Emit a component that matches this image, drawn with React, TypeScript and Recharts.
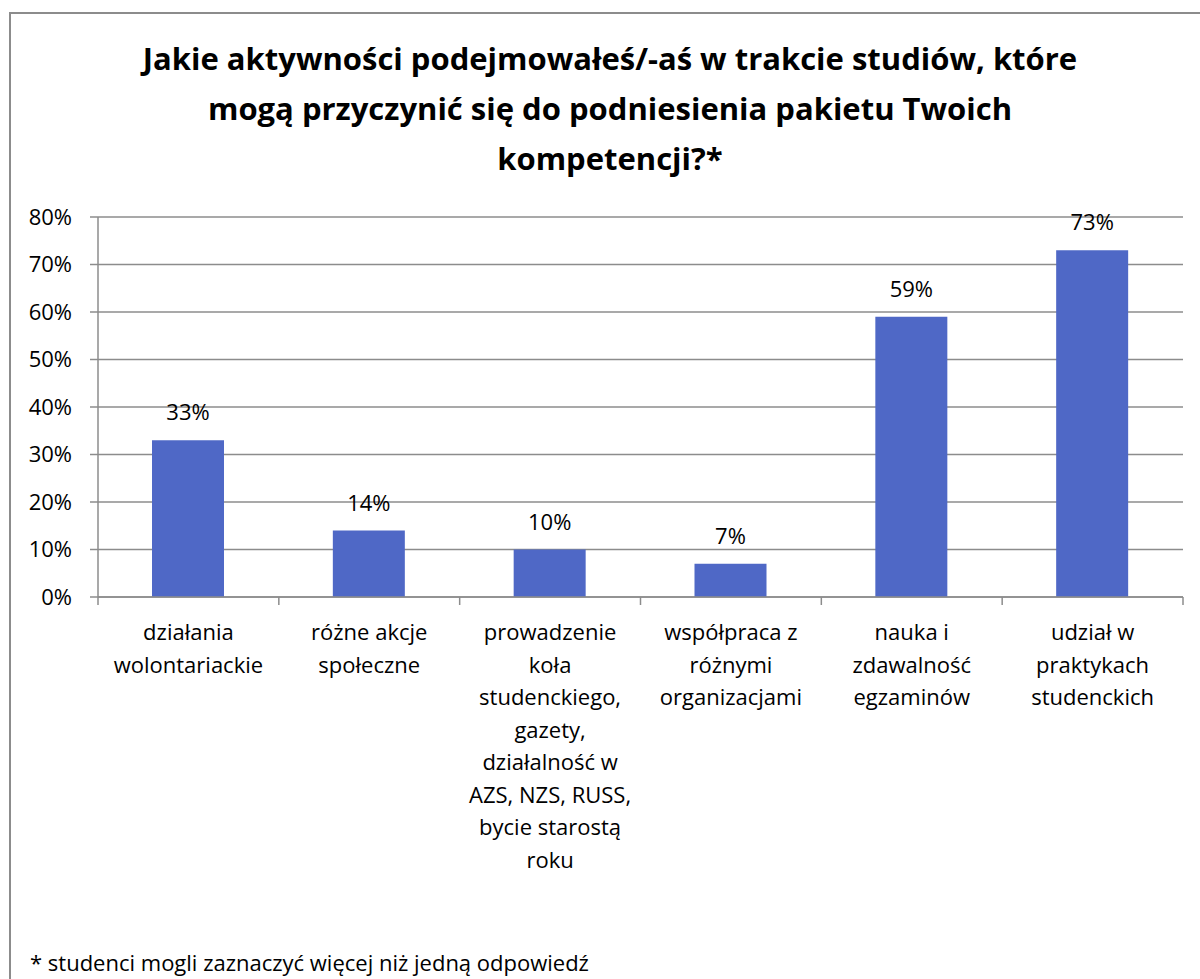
import { BarChart, Bar, XAxis, YAxis, CartesianGrid, LabelList } from 'recharts';

const categories = [
  'działania\nwolontariackie',
  'różne akcje\nspołeczne',
  'prowadzenie\nkoła\nstudenckiego,\ngazety,\ndziałalność w\nAZS, NZS, RUSS,\nbycie starostą\nroku',
  'współpraca z\nróżnymi\norganizacjami',
  'nauka i\nzdawalność\negzaminów',
  'udział w\npraktykach\nstudenckich',
];
const shares = [0.33, 0.14, 0.1, 0.07, 0.59, 0.73];
const yTicks = [0, 0.1, 0.2, 0.3, 0.4, 0.5, 0.6, 0.7, 0.8];
const titleLines = [
  'Jakie aktywności podejmowałeś/-aś w trakcie studiów, które',
  'mogą przyczynić się do podniesienia pakietu Twoich',
  'kompetencji?*',
];
const footnote = '* studenci mogli zaznaczyć więcej niż jedną odpowiedź';

const FONT = '"Open Sans", sans-serif';
const FS = 22;
const GRID = '#8c8c8c';
const BAR = '#4f68c6';
const PLOT_LEFT = 98;
const PLOT_RIGHT = 1183;
const BAND = (PLOT_RIGHT - PLOT_LEFT) / categories.length;

const pct = (v: number) => `${Math.round(v * 100)}%`;

function CategoryTick(props: any) {
  const { x, y, payload, index } = props;
  const lines = String(payload.value).split('\n');
  return (
    <g>
      <line x1={x - BAND / 2} x2={x - BAND / 2} y1={y} y2={y + 8} stroke={GRID} strokeWidth={1.5} />
      {index === categories.length - 1 && (
        <line x1={x + BAND / 2} x2={x + BAND / 2} y1={y} y2={y + 8} stroke={GRID} strokeWidth={1.5} />
      )}
      <text x={x} y={y} textAnchor="middle" fontFamily={FONT} fontSize={FS} fill="#000">
        {lines.map((l, i) => (
          <tspan key={i} x={x} y={y + 43 + i * 32.5}>{l}</tspan>
        ))}
      </text>
    </g>
  );
}

export default function App() {
  const data = categories.map((c, i) => ({ name: c, value: shares[i] }));
  return (
    <div style={{ position: 'absolute', left: 0, top: 0, width: 1200, height: 979, overflow: 'hidden', background: '#fff' }}>
      <div style={{ position: 'absolute', left: 9, top: 12, width: 1300, height: 1100, borderLeft: `2px solid ${GRID}`, borderTop: `2px solid ${GRID}` }} />
      <div style={{ position: 'absolute', left: 10, top: 33, width: 1200, textAlign: 'center', fontFamily: FONT, fontWeight: 700, fontSize: 31, lineHeight: '50px', color: '#000' }}>
        {titleLines.map((l, i) => <div key={i}>{l}</div>)}
      </div>
      <div style={{ position: 'absolute', left: 0, top: 0 }}>
        <BarChart width={1200} height={900} data={data} margin={{ top: 217, right: 17, bottom: 23, left: 10 }}>
          <CartesianGrid vertical={false} stroke={GRID} strokeWidth={1.5} />
          <XAxis
            dataKey="name"
            height={280}
            interval={0}
            tickSize={0}
            tickMargin={0}
            tickLine={false}
            axisLine={{ stroke: GRID, strokeWidth: 1.5 }}
            tick={<CategoryTick />}
          />
          <YAxis
            width={88}
            domain={[0, 0.8]}
            ticks={yTicks}
            tickFormatter={pct}
            tickSize={8}
            tickMargin={18}
            axisLine={{ stroke: GRID, strokeWidth: 1.5 }}
            tickLine={{ stroke: GRID, strokeWidth: 1.5 }}
            tick={{ fontFamily: FONT, fontSize: FS, fill: '#000' }}
          />
          <Bar dataKey="value" fill={BAR} barSize={72} isAnimationActive={false}>
            <LabelList dataKey="value" position="top" offset={20} formatter={(v: any) => pct(Number(v))}
              style={{ fontFamily: FONT, fontSize: FS, fill: '#000' }} />
          </Bar>
        </BarChart>
      </div>
      <div style={{ position: 'absolute', left: 30, top: 947, fontFamily: FONT, fontSize: FS, lineHeight: '30px', color: '#000', whiteSpace: 'nowrap' }}>
        {footnote}
      </div>
    </div>
  );
}
